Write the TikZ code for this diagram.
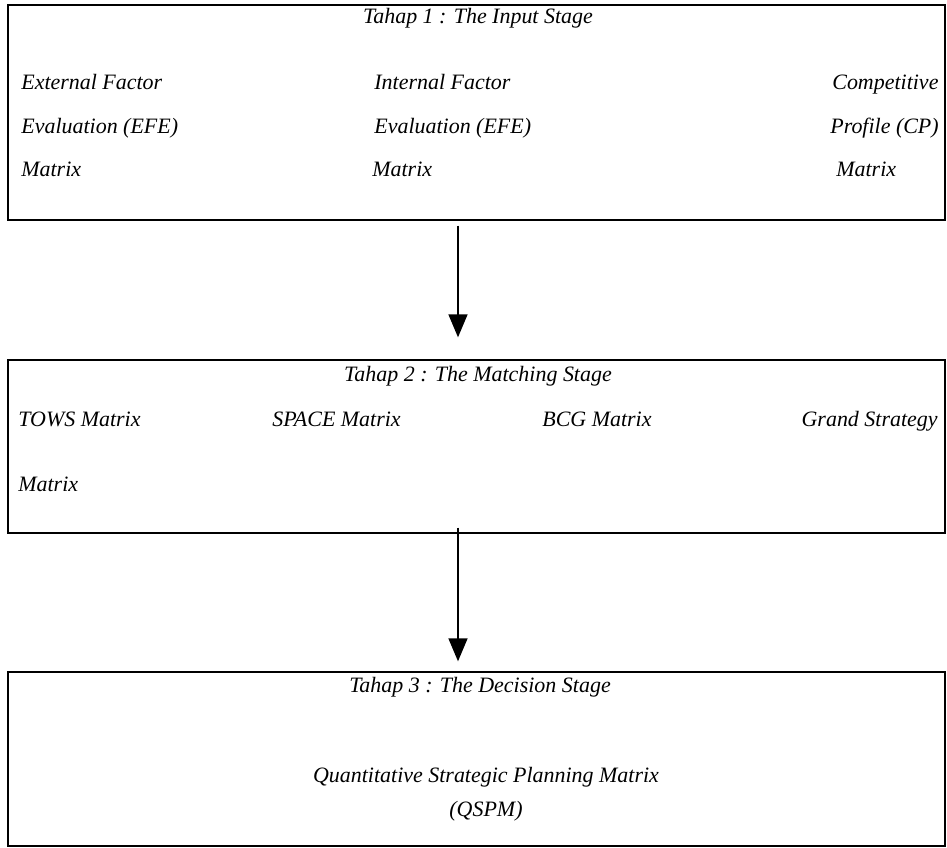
\documentclass[tikz,border=0pt]{standalone}
\usepackage{fontspec}
\setmainfont{Liberation Serif}
\usepackage{tikz}
\usetikzlibrary{positioning,arrows.meta,calc}

\tikzset{
  tahapbox/.style={draw, line width=0.8pt, rectangle, inner sep=0pt,
    minimum width=18.74cm},
  teks/.style={font=\fontsize{12.5}{15}\selectfont\itshape, inner sep=0pt,
    anchor=base west},
  judul/.style={teks, anchor=base},
  panah/.style={line width=0.9pt, -{Triangle[length=0.46cm, width=0.38cm]}}
}

\begin{document}
\begin{tikzpicture}[x=0.02cm, y=-0.02cm]
  % Ukuran gambar (piksel)
  \useasboundingbox (0,0) rectangle (947,848);

  % Kotak tiap tahap
  \node[tahapbox, minimum height=4.30cm] (tahap1) at (476.5,112.5) {};
  \node[tahapbox, minimum height=3.46cm] (tahap2) at (476.5,446.5) {};
  \node[tahapbox, minimum height=3.48cm] (tahap3) at (476.5,759) {};

  % Judul tahap (garis dasar)
  \node[judul] (judul1) at (478,24) {Tahap 1 : The Input Stage};
  \node[judul] (judul2) at (478,381) {Tahap 2 : The Matching Stage};
  \node[judul] (judul3) at (480,692) {Tahap 3 : The Decision Stage};

  % Tahap 1: tiga matriks
  \foreach \nama/\x/\y/\isi in {
    efe1/21/90/External Factor, efe2/21/133/Evaluation (EFE), efe3/21/176/Matrix,
    ife1/374/90/Internal Factor, ife2/374/133/Evaluation (EFE), ife3/372/176/Matrix,
    cp1/832/90/Competitive, cp2/830/133/Profile (CP), cp3/836/176/Matrix}{
    \node[teks] (\nama) at (\x,\y) {\isi};
  }

  % Tahap 2: empat matriks
  \foreach \nama/\x/\isi in {tows/18/TOWS Matrix, space/272/SPACE Matrix,
    bcg/542/BCG Matrix}{
    \node[teks] (\nama) at (\x,426) {\isi};
  }
  \node[teks, anchor=base east] (grand) at (938,426) {Grand Strategy};
  \node[teks] (grandm) at (18,491) {Matrix};

  % Tahap 3: QSPM
  \node[judul] (qspm1) at (486,782) {Quantitative Strategic Planning Matrix};
  \node[judul] (qspm2) at (486,816) {(QSPM)};

  % Panah antar tahap
  \coordinate (poros) at (458,0);
  \draw[panah, shorten <=0.1cm, shorten >=0.44cm]
    (tahap1.south -| poros) -- (tahap2.north -| poros);
  \draw[panah, shorten <=-0.12cm, shorten >=0.2cm]
    (tahap2.south -| poros) -- (tahap3.north -| poros);
\end{tikzpicture}
\end{document}
